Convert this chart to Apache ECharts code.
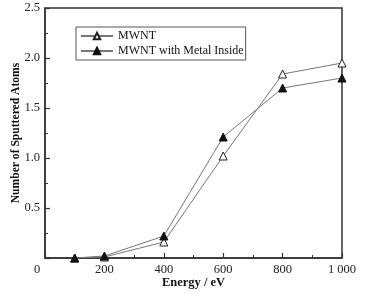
<!DOCTYPE html>
<html><head><meta charset="utf-8">
<script src="https://cdn.jsdelivr.net/npm/echarts@6/dist/echarts.min.js"></script>
<style>html,body{margin:0;padding:0;background:#fff}#c{width:366px;height:298px}</style>
</head><body><div id="c"></div>
<script>
var energy = [100, 200, 400, 600, 800, 1000];
var mwnt = [0.0, 0.01, 0.16, 1.02, 1.84, 1.95];
var mwntMetal = [0.0, 0.02, 0.22, 1.21, 1.70, 1.80];
var seriesNames = ['MWNT', 'MWNT with Metal Inside'];
var xTicks = [0, 200, 400, 600, 800, 1000];
var yTicks = [0, 0.5, 1.0, 1.5, 2.0, 2.5];

var font = 'Liberation Serif';
var chart = echarts.init(document.getElementById('c'));
function pairs(xs, ys){ return xs.map(function(x,i){return [x, ys[i]];}); }
var axisCommon = {
  axisLine: {show: true, onZero: false, lineStyle: {color: '#333', width: 1.5}},
  axisTick: {show: true, inside: true, length: 5, lineStyle: {color: '#333', width: 1.2}},
  minorTick: {show: true, splitNumber: 2, length: 3, lineStyle: {color: '#333', width: 1}},
  splitLine: {show: false}
};
chart.setOption({
  animation: false,
  grid: {left: 45, top: 8, right: 24, bottom: 40, containLabel: false, outerBoundsMode: 'none'},
  legend: {
    data: seriesNames,
    orient: 'vertical', left: 76, top: 27,
    itemWidth: 32, itemHeight: 8, itemGap: 3,
    padding: [3, 2, 3, 4],
    borderColor: '#555', borderWidth: 1,
    textStyle: {fontFamily: font, fontSize: 12, color: '#111'}
  },
  xAxis: Object.assign({
    type: 'value', min: 0, max: 1000, interval: 200,
    name: 'Energy / eV', nameLocation: 'middle', nameGap: 18, nameMoveOverlap: false,
    nameTextStyle: {fontFamily: font, fontWeight: 'bold', fontSize: 12.5, color: '#111'},
    axisLabel: {
      fontFamily: font, fontSize: 12.5, color: '#222', margin: 5,
      formatter: function(v){ if (v === 0) return '{z|0}'; if (v === 1000) return '1 000'; return String(v); },
      rich: {z: {fontFamily: font, fontSize: 12.5, color: '#222', padding: [0, 16, 0, 0]}}
    }
  }, axisCommon),
  yAxis: Object.assign({
    type: 'value', min: 0, max: 2.5, interval: 0.5,
    name: 'Number of Sputtered Atoms', nameLocation: 'middle', nameGap: 23, nameMoveOverlap: false,
    nameTextStyle: {fontFamily: font, fontWeight: 'bold', fontSize: 11.6, color: '#111'},
    axisLabel: {
      fontFamily: font, fontSize: 12.5, color: '#222', margin: 5,
      formatter: function(v){ return v === 0 ? '' : v.toFixed(1); }
    }
  }, axisCommon),
  series: [
    {
      name: seriesNames[0], type: 'line', data: pairs(energy, mwnt),
      symbol: 'triangle', symbolSize: 8, showAllSymbol: true,
      lineStyle: {color: '#777', width: 1},
      itemStyle: {color: '#fff', borderColor: '#222', borderWidth: 1}
    },
    {
      name: seriesNames[1], type: 'line', data: pairs(energy, mwntMetal),
      symbol: 'triangle', symbolSize: 8, showAllSymbol: true,
      lineStyle: {color: '#777', width: 1},
      itemStyle: {color: '#111', borderColor: '#111', borderWidth: 1}
    }
  ],
  graphic: [{
    type: 'rect', shape: {x: 45, y: 8, width: 297, height: 250},
    style: {fill: 'none', stroke: '#333', lineWidth: 1.5}, silent: true, z: 0
  }]
});
</script></body></html>
